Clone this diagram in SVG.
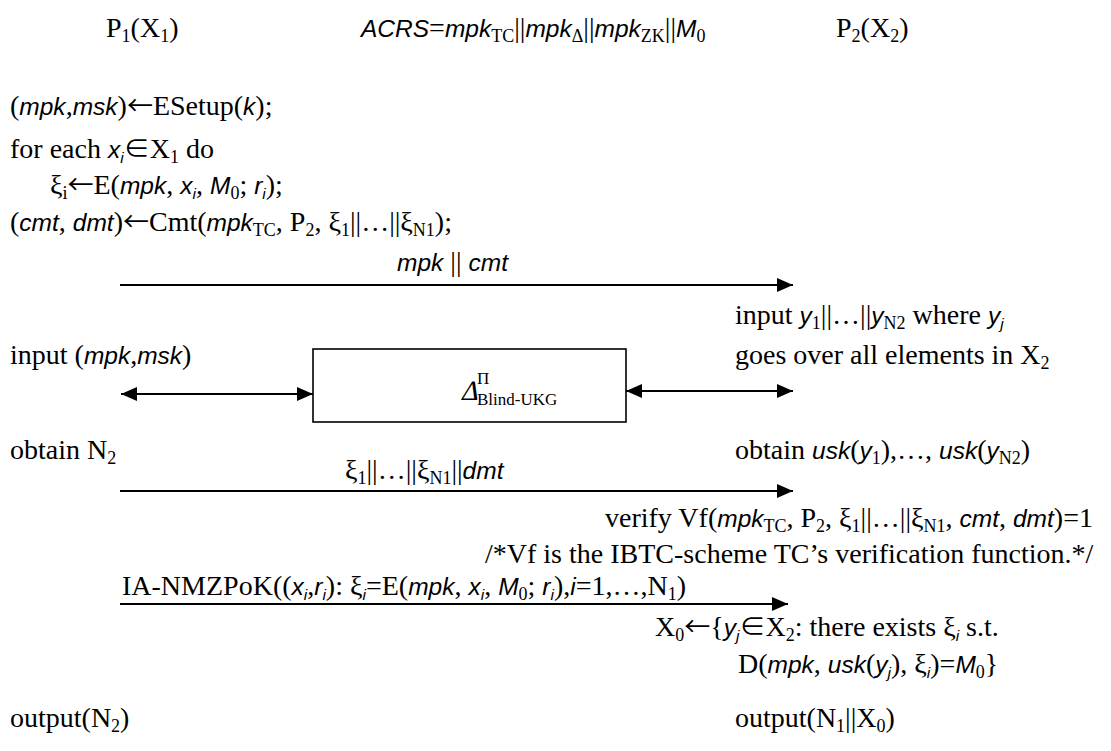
<svg xmlns="http://www.w3.org/2000/svg" width="1111" height="751" viewBox="0 0 1111 751">
<defs>
<style>
text{font-family:"Liberation Serif","Times New Roman",serif;font-size:28px;fill:#000}
.i{font-family:"Liberation Sans",Arial,sans-serif;font-style:italic;font-size:24.5px}
.s{font-size:18px;baseline-shift:-5px}
.si{font-family:"Liberation Sans",Arial,sans-serif;font-style:italic;font-size:15.5px;baseline-shift:-5px}
.cj{font-family:"Noto Sans CJK SC",sans-serif;font-size:26px}
.sm{font-size:17px}
.ln{stroke:#000;stroke-width:2;fill:none}
.box{stroke:#000;stroke-width:1.6;fill:#fff}
</style>
<marker id="ah" viewBox="0 0 16 14" refX="16" refY="7" markerWidth="16" markerHeight="14" markerUnits="userSpaceOnUse" orient="auto-start-reverse">
<path d="M0,0 L16,7 L0,14 z" fill="#000"/>
</marker>
</defs>

<!-- party headers -->
<g id="header">
<text x="106" y="37">P<tspan class="s">1</tspan>(X<tspan class="s">1</tspan>)</text>
<text x="361" y="37"><tspan class="i">ACRS</tspan>=<tspan class="i">mpk</tspan><tspan class="s">TC</tspan>||<tspan class="i">mpk</tspan><tspan class="s">Δ</tspan>||<tspan class="i">mpk</tspan><tspan class="s">ZK</tspan>||<tspan class="i">M</tspan><tspan class="s">0</tspan></text>
<text x="836" y="37">P<tspan class="s">2</tspan>(X<tspan class="s">2</tspan>)</text>
</g>

<!-- P1 setup and commitment -->
<g id="p1-setup">
<text x="10" y="115">(<tspan class="i">mpk</tspan>,<tspan class="i">msk</tspan>)<tspan class="cj">←</tspan>ESetup(<tspan class="i">k</tspan>);</text>
<text x="10" y="158">for each <tspan class="i">x</tspan><tspan class="si">i</tspan><tspan class="cj">∈</tspan>X<tspan class="s">1</tspan> do</text>
<text x="50" y="194">ξ<tspan class="s">i</tspan><tspan class="cj">←</tspan>E(<tspan class="i">mpk</tspan>, <tspan class="i">x</tspan><tspan class="si">i</tspan>, <tspan class="i">M</tspan><tspan class="s">0</tspan>; <tspan class="i">r</tspan><tspan class="si">i</tspan>);</text>
<text x="10" y="231">(<tspan class="i">cmt</tspan>, <tspan class="i">dmt</tspan>)<tspan class="cj">←</tspan>Cmt(<tspan class="i">mpk</tspan><tspan class="s">TC</tspan>, P<tspan class="s">2</tspan>, ξ<tspan class="s">1</tspan>||…||ξ<tspan class="s">N1</tspan>);</text>
</g>

<!-- P2 input -->
<g id="p2-input">
<text x="735" y="324">input <tspan class="i">y</tspan><tspan class="s">1</tspan>||…||<tspan class="i">y</tspan><tspan class="s">N2</tspan> where <tspan class="i">y</tspan><tspan class="si">j</tspan></text>
<text x="735" y="364">goes over all elements in X<tspan class="s">2</tspan></text>
</g>

<!-- P1 input to the functionality -->
<g id="p1-input">
<text x="10" y="364">input (<tspan class="i">mpk</tspan>,<tspan class="i">msk</tspan>)</text>
<text x="10" y="459">obtain N<tspan class="s">2</tspan></text>
</g>

<!-- ideal functionality box -->
<g id="blind-ukg">
<rect class="box" x="313" y="349" width="313" height="73"/>
<text transform="translate(460 400) skewX(-14)">Δ</text>
<text x="477" y="384" class="sm">Π</text>
<text x="477" y="405" class="sm">Blind-UKG</text>
</g>

<!-- P2 output of the functionality -->
<g id="p2-obtain">
<text x="735" y="459">obtain <tspan class="i">usk</tspan>(<tspan class="i">y</tspan><tspan class="s">1</tspan>),…, <tspan class="i">usk</tspan>(<tspan class="i">y</tspan><tspan class="s">N2</tspan>)</text>
</g>

<!-- P2 verification -->
<g id="p2-verify">
<text x="605" y="527">verify Vf(<tspan class="i">mpk</tspan><tspan class="s">TC</tspan>, P<tspan class="s">2</tspan>, ξ<tspan class="s">1</tspan>||…||ξ<tspan class="s">N1</tspan>, <tspan class="i">cmt</tspan>, <tspan class="i">dmt</tspan>)=1</text>
<text x="485" y="563">/*Vf is the IBTC-scheme TC’s verification function.*/</text>
</g>

<!-- P2 intersection -->
<g id="p2-intersect">
<text x="655" y="636">X<tspan class="s">0</tspan><tspan class="cj">←</tspan>{<tspan class="i">y</tspan><tspan class="si">j</tspan><tspan class="cj">∈</tspan>X<tspan class="s">2</tspan>: there exists ξ<tspan class="si">i</tspan> s.t.</text>
<text x="738" y="673">D(<tspan class="i">mpk</tspan>, <tspan class="i">usk</tspan>(<tspan class="i">y</tspan><tspan class="si">j</tspan>), ξ<tspan class="si">i</tspan>)=<tspan class="i">M</tspan><tspan class="s">0</tspan>}</text>
</g>

<!-- outputs -->
<g id="outputs">
<text x="10" y="727">output(N<tspan class="s">2</tspan>)</text>
<text x="735" y="727">output(N<tspan class="s">1</tspan>||X<tspan class="s">0</tspan>)</text>
</g>

<!-- messages and connectors -->
<g id="connectors">
<text x="508" y="271" text-anchor="end"><tspan class="i">mpk</tspan> || <tspan class="i">cmt</tspan></text>
<line class="ln" x1="120" y1="285" x2="793" y2="285" marker-end="url(#ah)"/>
<line class="ln" x1="121" y1="394" x2="313" y2="394" marker-start="url(#ah)" marker-end="url(#ah)"/>
<line class="ln" x1="626" y1="391" x2="793" y2="391" marker-start="url(#ah)" marker-end="url(#ah)"/>
<text x="345" y="479">ξ<tspan class="s">1</tspan>||…||ξ<tspan class="s">N1</tspan>||<tspan class="i">dmt</tspan></text>
<line class="ln" x1="120" y1="491" x2="793" y2="491" marker-end="url(#ah)"/>
<text x="122" y="595">IA-NMZPoK((<tspan class="i">x</tspan><tspan class="si">i</tspan>,<tspan class="i">r</tspan><tspan class="si">i</tspan>): ξ<tspan class="si">i</tspan>=E(<tspan class="i">mpk</tspan>, <tspan class="i">x</tspan><tspan class="si">i</tspan>, <tspan class="i">M</tspan><tspan class="s">0</tspan>; <tspan class="i">r</tspan><tspan class="si">i</tspan>),<tspan class="i">i</tspan>=1,…,N<tspan class="s">1</tspan>)</text>
<line class="ln" x1="120" y1="604" x2="788" y2="604" marker-end="url(#ah)"/>
</g>
</svg>
